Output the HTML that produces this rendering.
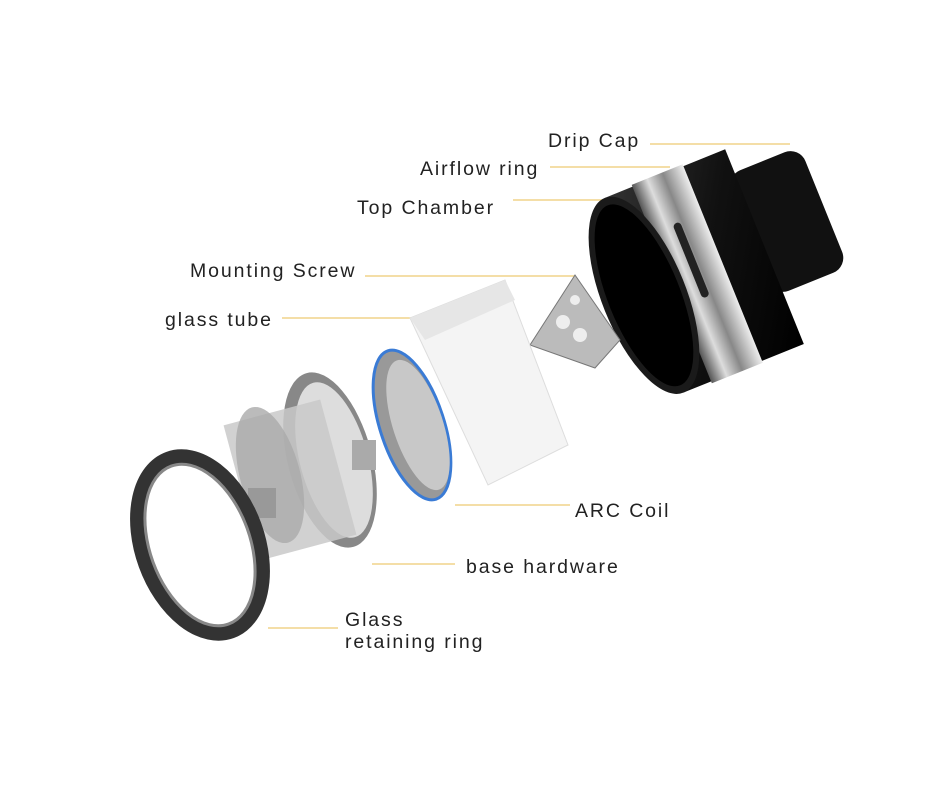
<!DOCTYPE html>
<html><head><meta charset="utf-8"><style>
html,body{margin:0;padding:0;background:#fff;}
svg{display:block}
text{font-family:"Liberation Sans",sans-serif;font-size:19.5px;fill:#222;letter-spacing:1.9px}
</style></head><body>
<svg width="950" height="800" viewBox="0 0 950 800">
<defs>
<linearGradient id="blk" x1="0" y1="0" x2="1" y2="1"><stop offset="0" stop-color="#333"/><stop offset=".5" stop-color="#111"/><stop offset="1" stop-color="#000"/></linearGradient>
<linearGradient id="met" x1="0" y1="0" x2="1" y2="0"><stop offset="0" stop-color="#555"/><stop offset=".3" stop-color="#ddd"/><stop offset=".6" stop-color="#888"/><stop offset="1" stop-color="#eee"/></linearGradient>
</defs>
<g stroke="#f0d48a" stroke-width="1.5">
<line x1="650" y1="144" x2="790" y2="144"/>
<line x1="550" y1="167" x2="670" y2="167"/>
<line x1="513" y1="200" x2="632" y2="200"/>
<line x1="365" y1="276" x2="575" y2="276"/>
<line x1="282" y1="318" x2="415" y2="318"/>
<line x1="455" y1="505" x2="570" y2="505"/>
<line x1="372" y1="564" x2="455" y2="564"/>
<line x1="268" y1="628" x2="338" y2="628"/>
</g>
<text x="548" y="147">Drip Cap</text>
<text x="420" y="175">Airflow ring</text>
<text x="357" y="214">Top Chamber</text>
<text x="190" y="277">Mounting Screw</text>
<text x="165" y="326">glass tube</text>
<text x="575" y="517">ARC Coil</text>
<text x="466" y="573">base hardware</text>
<text x="345" y="626">Glass</text>
<text x="345" y="648">retaining ring</text>
<g transform="rotate(-22 720 270)">
<rect x="760" y="185" width="80" height="130" rx="16" fill="#111"/>
<rect x="640" y="160" width="130" height="210" fill="url(#blk)"/>
<rect x="670" y="158" width="55" height="214" fill="url(#met)"/>
<rect x="693" y="210" width="8" height="80" rx="4" fill="#222"/>
<ellipse cx="640" cy="265" rx="42" ry="105" fill="#1a1a1a"/>
<ellipse cx="640" cy="265" rx="36" ry="97" fill="#000"/>
</g>
<polygon points="575,275 620,340 595,368 530,345" fill="#bbb" stroke="#777"/>
<circle cx="563" cy="322" r="7" fill="#eee"/><circle cx="580" cy="335" r="7" fill="#eee"/><circle cx="575" cy="300" r="5" fill="#eee"/>
<polygon points="410,318 505,280 568,445 488,485" fill="#f4f4f4" stroke="#ddd"/>
<polygon points="410,318 505,280 515,300 425,340" fill="#e6e6e6"/>
<ellipse cx="412" cy="425" rx="32" ry="78" transform="rotate(-18 412 425)" fill="#999" stroke="#3a7bd5" stroke-width="3"/>
<ellipse cx="418" cy="425" rx="25" ry="68" transform="rotate(-18 418 425)" fill="#c8c8c8"/>
<ellipse cx="330" cy="460" rx="42" ry="90" transform="rotate(-15 330 460)" fill="#888"/>
<ellipse cx="334" cy="460" rx="34" ry="80" transform="rotate(-15 334 460)" fill="#ddd"/>
<rect x="240" y="410" width="100" height="140" fill="#c9c9c9" opacity=".85" transform="rotate(-15 290 480)"/>
<ellipse cx="270" cy="475" rx="30" ry="70" transform="rotate(-15 270 475)" fill="#aaa" opacity=".8"/>
<rect x="248" y="488" width="28" height="30" fill="#999"/>
<rect x="352" y="440" width="24" height="30" fill="#aaa"/>
<ellipse cx="200" cy="545" rx="58" ry="92" transform="rotate(-20 200 545)" fill="none" stroke="#333" stroke-width="14"/>
<ellipse cx="200" cy="545" rx="50" ry="84" transform="rotate(-20 200 545)" fill="none" stroke="#888" stroke-width="3"/>
</svg>
</body></html>
